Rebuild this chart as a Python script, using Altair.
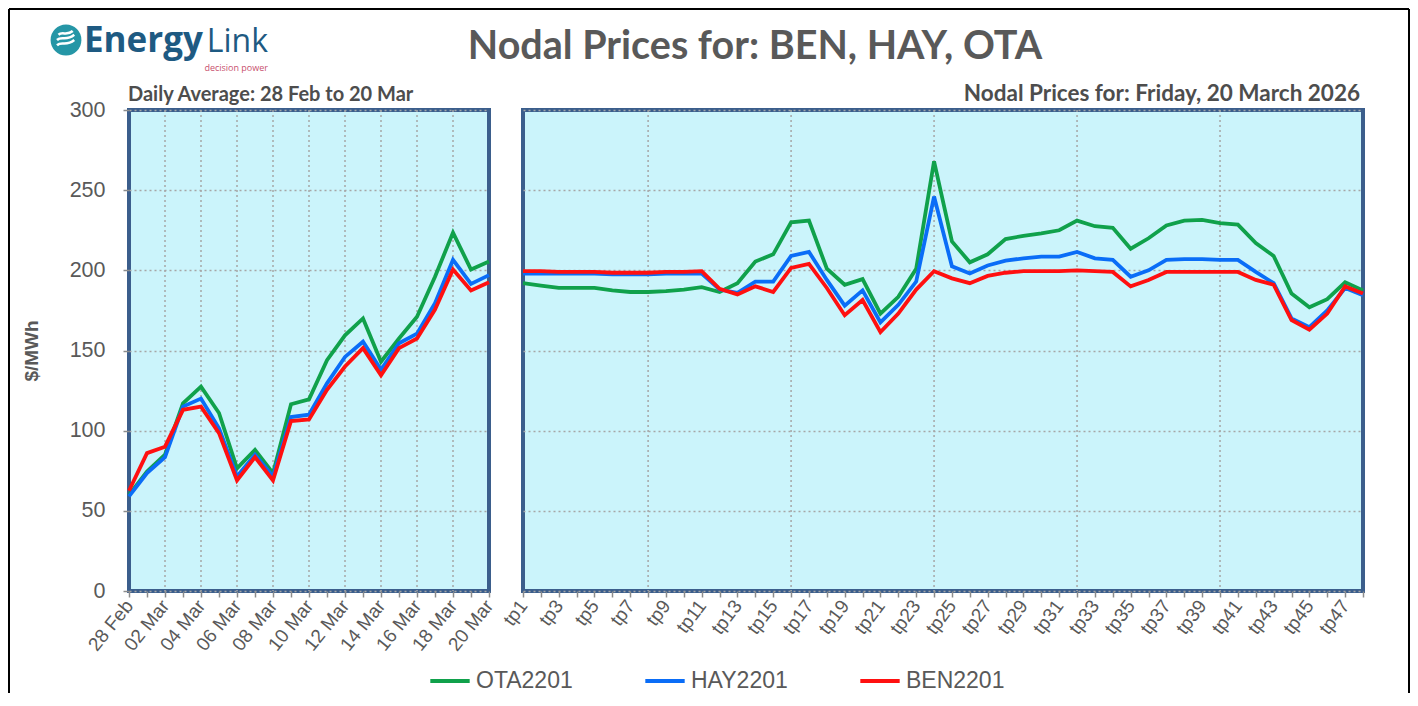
import altair as alt
import pandas as pd

# ---------------- data ----------------
dates = ["28 Feb", "01 Mar", "02 Mar", "03 Mar", "04 Mar", "05 Mar", "06 Mar",
         "07 Mar", "08 Mar", "09 Mar", "10 Mar", "11 Mar", "12 Mar", "13 Mar",
         "14 Mar", "15 Mar", "16 Mar", "17 Mar", "18 Mar", "19 Mar", "20 Mar"]
date_labels = dates[::2]
date_grid = dates[2:-1:2]

ota_daily = [60, 74.5, 85, 117, 127.5, 111, 76.5, 88, 73.5, 116.5, 119.5, 144,
             159.5, 170, 143, 157.5, 171, 196, 223.5, 200.5, 205.5]
hay_daily = [59, 73.5, 83.5, 115, 120, 101.5, 71.5, 85, 71.5, 108.5, 110, 129.5,
             146, 155.5, 138, 154.5, 160.5, 179.5, 206.5, 191.5, 197]
ben_daily = [62.5, 86, 90, 113, 115, 98.5, 69, 83.5, 69, 106, 107, 125.5,
             140, 151.5, 134.5, 151.5, 157.5, 175.5, 200.5, 187.5, 192.5]

tps = ["tp%d" % i for i in range(1, 49)]
tp_labels = tps[::2]
tp_grid = ["tp8", "tp16", "tp24", "tp32", "tp40"]

ota_tp = [192, 190.5, 189, 189, 189, 187.5, 186.5, 186.5, 187, 188, 189.5, 186.5,
          192, 205.5, 210, 230, 231, 201, 191, 194.5, 173, 183.5, 201, 268,
          218, 205, 210, 219.5, 221.5, 223, 225, 231, 227.5, 226.5, 213.5, 220,
          228, 231, 231.5, 229.5, 228.5, 217, 209, 185.5, 177, 182, 192.5, 187.5]
hay_tp = [198, 198, 198, 198, 198, 197.5, 197.5, 197.5, 198, 198, 198, 188,
          186, 193, 193, 209, 211.5, 194, 178, 187.5, 167.5, 178.5, 193, 246,
          202.5, 198, 203, 206, 207.5, 208.5, 208.5, 211.5, 207.5, 206.5, 196, 200,
          206.5, 207, 207, 206.5, 206.5, 199, 192, 170, 164.5, 175, 189, 184.5]
ben_tp = [199.5, 199.5, 199, 199, 199, 198.5, 198.5, 198.5, 199, 199, 199.5, 188.5,
          185, 190, 186.5, 201.5, 204, 189, 172, 181.5, 161.5, 173, 188, 199.5,
          195, 192, 196.5, 198.5, 199.5, 199.5, 199.5, 200, 199.5, 199, 190, 194,
          199, 199, 199, 199, 199, 194, 191, 169, 163, 173, 190, 185.5]

series = ["OTA2201", "HAY2201", "BEN2201"]
colors = ["#10A14B", "#0A6DF7", "#FF1010"]

y_ticks = [0, 50, 100, 150, 200, 250, 300]

# ---------------- tables ----------------
daily_df = pd.DataFrame({
    "date": dates * 3,
    "value": ota_daily + hay_daily + ben_daily,
    "series": [series[0]] * len(dates) + [series[1]] * len(dates) + [series[2]] * len(dates),
})
tp_df = pd.DataFrame({
    "tp": tps * 3,
    "value": ota_tp + hay_tp + ben_tp,
    "series": [series[0]] * len(tps) + [series[1]] * len(tps) + [series[2]] * len(tps),
})

# ---------------- style ----------------
FONT = "Liberation Sans"
HFONT = "Lato"
GREY = "#595959"
GRID = "#A6A6A6"
LW, LH = 360, 481
RW = 840

color_scale = alt.Scale(domain=series, range=colors)
legend = alt.Legend(orient="none", legendX=299, legendY=549, direction="horizontal",
                    title=None, symbolType="stroke", symbolStrokeWidth=4,
                    symbolSize=1550, labelFontSize=23, labelFont=FONT,
                    labelColor=GREY, columnPadding=64, labelOffset=4, padding=0)

y_scale = alt.Scale(domain=[0, 300], nice=False, zero=True)


def label_expr(keep):
    arr = "[" + ",".join("'%s'" % k for k in keep) + "]"
    return "indexof(%s, datum.value) >= 0 ? datum.label : ''" % arr


def x_axis(keep, angle):
    return alt.Axis(title=None, labelExpr=label_expr(keep), labelAngle=angle,
                    labelFont=FONT, labelFontSize=19, labelColor=GREY,
                    labelPadding=5, grid=False, domain=False, ticks=True,
                    tickSize=6, tickColor="#8C8C8C", tickWidth=1.5,
                    labelOverlap=False)


left_y_axis = alt.Axis(values=y_ticks, title="$/MWh", titleFont=FONT,
                       titleFontSize=19, titleFontWeight="bold", titleColor=GREY,
                       titleX=-88, titleY=LH / 2, titleAngle=-90,
                       labelFont=FONT, labelFontSize=21.5, labelColor=GREY,
                       labelPadding=18, domain=False, ticks=True, tickSize=6,
                       tickColor="#8C8C8C", tickWidth=1.5, grid=True,
                       gridColor=GRID, gridDash=[2, 3], gridWidth=1.5)
right_y_axis = alt.Axis(values=y_ticks, title=None, labels=False, ticks=False,
                        domain=False, grid=True, gridColor=GRID,
                        gridDash=[2, 3], gridWidth=1.5)


def panel(df, xfield, domain, keep, grid_vals, yaxis, angle):
    xs = alt.Scale(type="point", domain=domain, padding=0)
    xa = x_axis(keep, angle)
    grid = alt.Chart(pd.DataFrame({xfield: grid_vals})).mark_rule(
        color=GRID, strokeDash=[2, 3], strokeWidth=1.5
    ).encode(x=alt.X(xfield + ":O", scale=xs, axis=xa))
    layers = [grid]
    for s in series:
        layers.append(
            alt.Chart(df).transform_filter(alt.datum.series == s)
            .mark_line(strokeWidth=3.8, strokeJoin="miter")
            .encode(
                x=alt.X(xfield + ":O", scale=xs, axis=xa, sort=domain),
                y=alt.Y("value:Q", scale=y_scale, axis=yaxis),
                color=alt.Color("series:N", scale=color_scale, legend=legend),
            )
        )
    return layers


one = alt.Data(values=[{"k": 1}])


def txt(text, x, y, size, color, weight="normal", font=HFONT, align="left", baseline="alphabetic"):
    return alt.Chart(one).mark_text(
        text=text, font=font, fontSize=size, fontWeight=weight, color=color,
        align=align, baseline=baseline
    ).encode(x=alt.value(x), y=alt.value(y))


# decorations relative to left plot origin (page 129,110)
deco = [
    # outer frame (top, left, right)
    alt.Chart(one).mark_rule(color="#000000", strokeWidth=2).encode(
        x=alt.value(-120), x2=alt.value(1280), y=alt.value(-101)),
    alt.Chart(one).mark_rule(color="#000000", strokeWidth=2).encode(
        x=alt.value(-120), y=alt.value(-101), y2=alt.value(583)),
    alt.Chart(one).mark_rule(color="#000000", strokeWidth=2).encode(
        x=alt.value(1280), y=alt.value(-101), y2=alt.value(583)),
    # logo
    alt.Chart(one).mark_point(shape="circle", filled=True, size=950,
                              color="#2596A6", opacity=1).encode(
        x=alt.value(-63), y=alt.value(-70)),
    alt.Chart(one).mark_point(
        shape="M-0.6,0.35 C-0.3,0.05 0,0.45 0.55,0.0 M-0.6,0.0 C-0.3,-0.3 0,0.1 0.55,-0.35 M-0.5,-0.35 C-0.25,-0.6 0.05,-0.25 0.45,-0.6",
        filled=False, size=900, stroke="white", strokeWidth=2.5, opacity=1
    ).encode(x=alt.value(-63), y=alt.value(-70)),
    txt("Energy", -45, -58, 35, "#1E5A82", "bold", "Open Sans"),
    txt("Link", 139, -58, 32, "#1E5A82", "normal", "Open Sans", "right"),
    txt("decision power", 139, -42, 9, "#C8506E", "normal", "Open Sans", "right", "middle"),
    # main title
    txt("Nodal Prices for: BEN, HAY, OTA", 626, -51, 39.5, GREY, "bold", HFONT, "center"),
    # panel sub-titles
    txt("Daily Average: 28 Feb to 20 Mar", -1, -9, 20, "#4D4D4D", "bold", HFONT, "left"),
    txt("Nodal Prices for: Friday, 20 March 2026", 1231, -9, 22.5, "#4D4D4D", "bold", HFONT, "right"),
]

left = alt.layer(
    *panel(daily_df, "date", dates, date_labels, date_grid, left_y_axis, -51),
    *deco
).properties(width=LW, height=LH)

right = alt.layer(
    *panel(tp_df, "tp", tps, tp_labels, tp_grid, right_y_axis, -53)
).properties(width=RW, height=LH)

chart = alt.hconcat(left, right, spacing=34, bounds="flush").resolve_scale(
    color="shared"
).properties(
    padding={"left": -2, "top": -2, "right": -2, "bottom": 0},
    background="white",
).configure_view(
    stroke="#3B5E8C", strokeWidth=4, fill="#CBF4FB"
)

chart.save("out.html", embed_options={"renderer": "svg", "actions": False})
